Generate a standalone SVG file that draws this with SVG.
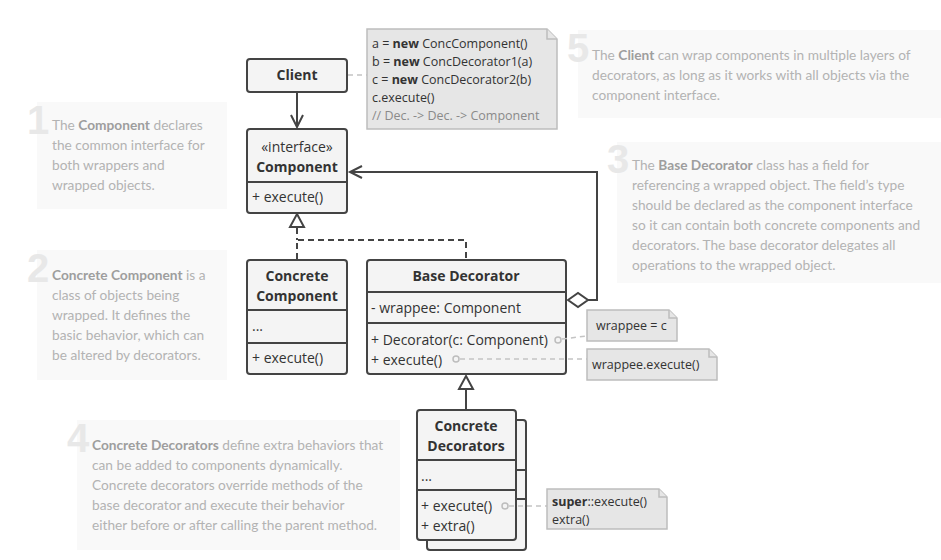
<svg xmlns="http://www.w3.org/2000/svg" width="941" height="560" viewBox="0 0 941 560">
  <style>
    .panel { fill: #f9f9f9; }
    .num { font-family: "Liberation Sans", Arial, sans-serif; font-weight: bold; font-size: 40px; fill: #e8e8e8; }
    .desc { font-family: Lato, "Noto Sans", sans-serif; font-size: 13.7px; fill: #b3b3b3; }
    .desc .b { font-weight: bold; fill: #9e9e9e; }
    .box { fill: #f4f4f4; stroke: #444; stroke-width: 2; }
    .div { stroke: #444; stroke-width: 2; fill: none; }
    .t { font-family: "Open Sans", "Noto Sans", sans-serif; font-size: 14px; fill: #333; }
    .tb { font-family: "Open Sans", "Noto Sans", sans-serif; font-size: 14px; font-weight: bold; fill: #333; }
    .note { fill: #e6e6e6; stroke: #bdbdbd; stroke-width: 1.5; }
    .nt { font-family: "Open Sans", "Noto Sans", sans-serif; font-size: 12.5px; fill: #333; }
    .nt .b { font-weight: bold; }
    .cmt { fill: #8a8a8a; }
    .line { stroke: #444; stroke-width: 2; fill: none; }
    .dash { stroke: #444; stroke-width: 2; fill: none; stroke-dasharray: 6 4; }
    .ndash { stroke: #c4c4c4; stroke-width: 1.5; fill: none; stroke-dasharray: 5 4; }
    .dot { fill: #f4f4f4; stroke: #bdbdbd; stroke-width: 1.5; }
    .hollow { fill: #fff; stroke: #444; stroke-width: 2; stroke-linejoin: miter; }
  </style>

  <!-- explanatory panels -->
  <g id="panel-1">
    <rect class="panel" x="37" y="102" width="190" height="107"/>
    <text class="num" x="27" y="134">1</text>
    <text class="desc" x="52" y="130">The <tspan class="b">Component</tspan> declares</text>
    <text class="desc" x="52" y="150">the common interface for</text>
    <text class="desc" x="52" y="170">both wrappers and</text>
    <text class="desc" x="52" y="190">wrapped objects.</text>
  </g>
  <g id="panel-2">
    <rect class="panel" x="37" y="250" width="190" height="130"/>
    <text class="num" x="27" y="282">2</text>
    <text class="desc" x="52" y="280"><tspan class="b">Concrete Component</tspan> is a</text>
    <text class="desc" x="52" y="300">class of objects being</text>
    <text class="desc" x="52" y="320">wrapped. It defines the</text>
    <text class="desc" x="52" y="340">basic behavior, which can</text>
    <text class="desc" x="52" y="360">be altered by decorators.</text>
  </g>
  <g id="panel-3">
    <rect class="panel" x="617" y="142" width="324" height="141"/>
    <text class="num" x="607" y="173">3</text>
    <text class="desc" x="632" y="170">The <tspan class="b">Base Decorator</tspan> class has a field for</text>
    <text class="desc" x="632" y="190">referencing a wrapped object. The field’s type</text>
    <text class="desc" x="632" y="210">should be declared as the component interface</text>
    <text class="desc" x="632" y="230">so it can contain both concrete components and</text>
    <text class="desc" x="632" y="250">decorators. The base decorator delegates all</text>
    <text class="desc" x="632" y="270">operations to the wrapped object.</text>
  </g>
  <g id="panel-4">
    <rect class="panel" x="77" y="420" width="323" height="130"/>
    <text class="num" x="67" y="452">4</text>
    <text class="desc" x="92" y="450"><tspan class="b">Concrete Decorators</tspan> define extra behaviors that</text>
    <text class="desc" x="92" y="470">can be added to components dynamically.</text>
    <text class="desc" x="92" y="490">Concrete decorators override methods of the</text>
    <text class="desc" x="92" y="510">base decorator and execute their behavior</text>
    <text class="desc" x="92" y="530">either before or after calling the parent method.</text>
  </g>
  <g id="panel-5">
    <rect class="panel" x="578" y="30" width="363" height="88"/>
    <text class="num" x="567" y="62">5</text>
    <text class="desc" x="592" y="60">The <tspan class="b">Client</tspan> can wrap components in multiple layers of</text>
    <text class="desc" x="592" y="80">decorators, as long as it works with all objects via the</text>
    <text class="desc" x="592" y="100">component interface.</text>
  </g>

  <!-- connectors -->
  <g id="connectors">
    <!-- client uses component -->
    <line class="line" x1="297" y1="92" x2="297" y2="127"/>
    <polyline class="line" points="291,115 297,127 303,115"/>
    <!-- base decorator aggregates component -->
    <polyline class="line" points="588,300 597,300 597,172 350,172"/>
    <polyline class="line" points="362,166 350,172 362,178"/>
    <polygon class="hollow" points="568,300 578,293 588,300 578,307"/>
    <!-- implementations of the interface -->
    <polyline class="dash" points="297,259 297,240 466,240 466,259"/>
    <line class="dash" x1="297" y1="228" x2="297" y2="240"/>
    <polygon class="hollow" points="297,214 304,227 290,227"/>
    <!-- concrete decorators extend base decorator -->
    <line class="line" x1="466" y1="389" x2="466" y2="409"/>
    <polygon class="hollow" points="466,376 473,389 459,389"/>
    <!-- client to its note -->
    <line class="ndash" x1="348" y1="75" x2="367" y2="75"/>
  </g>

  <!-- client -->
  <g id="client">
    <rect class="box" x="247" y="59" width="100" height="33" rx="3"/>
    <text class="tb" x="297" y="80" text-anchor="middle">Client</text>
  </g>

  <!-- client code note -->
  <g id="note-client">
    <path class="note" d="M367,29 H547 L557,39 V129 H367 Z"/>
    <path class="note" d="M547,29 V39 H557" fill="none"/>
    <text class="nt" x="372" y="48">a = <tspan class="b">new</tspan> ConcComponent()</text>
    <text class="nt" x="372" y="66">b = <tspan class="b">new</tspan> ConcDecorator1(a)</text>
    <text class="nt" x="372" y="84">c = <tspan class="b">new</tspan> ConcDecorator2(b)</text>
    <text class="nt" x="372" y="102">c.execute()</text>
    <text class="nt cmt" x="372" y="120">// Dec. -&gt; Dec. -&gt; Component</text>
  </g>

  <!-- component interface -->
  <g id="component">
    <rect class="box" x="247" y="129" width="100" height="84" rx="3"/>
    <line class="div" x1="247" y1="182" x2="347" y2="182"/>
    <text class="t" x="297" y="152" text-anchor="middle">«interface»</text>
    <text class="tb" x="297" y="172" text-anchor="middle">Component</text>
    <text class="t" x="252" y="202">+ execute()</text>
  </g>

  <!-- concrete component -->
  <g id="concrete-component">
    <rect class="box" x="247" y="260" width="100" height="114" rx="3"/>
    <line class="div" x1="247" y1="310" x2="347" y2="310"/>
    <line class="div" x1="247" y1="343" x2="347" y2="343"/>
    <text class="tb" x="297" y="281" text-anchor="middle">Concrete</text>
    <text class="tb" x="297" y="301" text-anchor="middle">Component</text>
    <text class="t" x="252" y="331">...</text>
    <text class="t" x="252" y="363">+ execute()</text>
  </g>

  <!-- base decorator -->
  <g id="base-decorator">
    <rect class="box" x="367" y="260" width="199" height="114" rx="3"/>
    <line class="div" x1="367" y1="292" x2="566" y2="292"/>
    <line class="div" x1="367" y1="323" x2="566" y2="323"/>
    <text class="tb" x="466" y="281" text-anchor="middle">Base Decorator</text>
    <text class="t" x="371" y="313">- wrappee: Component</text>
    <text class="t" x="371" y="345">+ Decorator(c: Component)</text>
    <text class="t" x="371" y="365">+ execute()</text>
  </g>

  <!-- concrete decorators (stacked) -->
  <g id="concrete-decorators">
    <rect class="box" x="427" y="420" width="99" height="130" rx="3"/>
    <line class="div" x1="516" y1="470" x2="526" y2="470"/>
    <line class="div" x1="516" y1="499" x2="526" y2="499"/>
    <rect class="box" x="417" y="410" width="99" height="130" rx="3"/>
    <line class="div" x1="417" y1="460" x2="516" y2="460"/>
    <line class="div" x1="417" y1="490" x2="516" y2="490"/>
    <text class="tb" x="466" y="431" text-anchor="middle">Concrete</text>
    <text class="tb" x="466" y="451" text-anchor="middle">Decorators</text>
    <text class="t" x="421" y="481">...</text>
    <text class="t" x="421" y="511">+ execute()</text>
    <text class="t" x="421" y="531">+ extra()</text>
  </g>

  <!-- method-to-note links, drawn over the class boxes -->
  <g id="note-links">
    <line class="ndash" x1="562" y1="339" x2="587" y2="336"/>
    <line class="ndash" x1="460" y1="359" x2="587" y2="359"/>
    <line class="ndash" x1="509" y1="506" x2="547" y2="506"/>
    <circle class="dot" cx="558" cy="340" r="3"/>
    <circle class="dot" cx="456" cy="359" r="3"/>
    <circle class="dot" cx="505" cy="506" r="3"/>
  </g>

  <g id="note-wrappee">
    <path class="note" d="M587,310 H669 L677,318 V341 H587 Z"/>
    <path class="note" d="M669,310 V318 H677" fill="none"/>
    <text class="nt" x="596" y="330">wrappee = c</text>
  </g>

  <g id="note-execute">
    <path class="note" d="M587,349 H709 L717,357 V380 H587 Z"/>
    <path class="note" d="M709,349 V357 H717" fill="none"/>
    <text class="nt" x="592" y="369">wrappee.execute()</text>
  </g>

  <g id="note-super">
    <path class="note" d="M547,489 H659 L667,497 V529 H547 Z"/>
    <path class="note" d="M659,489 V497 H667" fill="none"/>
    <text class="nt" x="552" y="506"><tspan class="b">super</tspan>::execute()</text>
    <text class="nt" x="552" y="524">extra()</text>
  </g>
</svg>
